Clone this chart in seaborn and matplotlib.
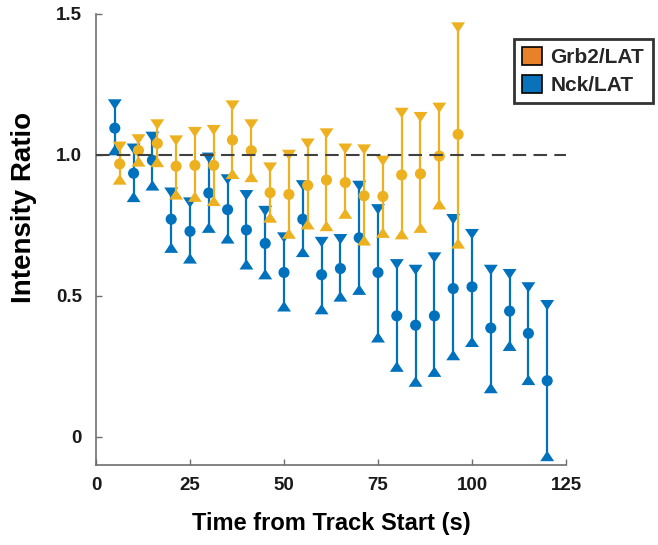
import matplotlib
matplotlib.use("Agg")
import matplotlib.pyplot as plt
from matplotlib.patches import Patch
from matplotlib.path import Path
import numpy as np
import pandas as pd
import seaborn as sns

# Nck/LAT intensity ratio: mean with lower / upper bounds
nck_time = [5, 10, 15, 20, 25, 30, 35, 40, 45, 50, 55, 60,
            65, 70, 75, 80, 85, 90, 95, 100, 105, 110, 115, 120]
nck_mean = [1.095, 0.935, 0.981, 0.772, 0.729, 0.865, 0.806, 0.734, 0.686, 0.583, 0.772, 0.575,
            0.597, 0.706, 0.583, 0.429, 0.396, 0.429, 0.526, 0.532, 0.386, 0.446, 0.367, 0.199]
nck_lower = [1.017, 0.851, 0.892, 0.671, 0.633, 0.742, 0.704, 0.612, 0.577, 0.463, 0.656, 0.453,
             0.498, 0.522, 0.353, 0.249, 0.196, 0.231, 0.290, 0.337, 0.173, 0.323, 0.202, -0.068]
nck_upper = [1.179, 1.022, 1.064, 0.866, 0.831, 0.990, 0.913, 0.857, 0.801, 0.707, 0.892, 0.691,
             0.701, 0.890, 0.807, 0.612, 0.592, 0.636, 0.772, 0.719, 0.592, 0.577, 0.530, 0.467]

# Grb2/LAT intensity ratio, sampled slightly offset in time
grb2_time = [6.3, 11.3, 16.3, 21.3, 26.3, 31.3, 36.3, 41.3, 46.3, 51.3,
             56.3, 61.3, 66.3, 71.3, 76.3, 81.3, 86.3, 91.3, 96.3]
grb2_mean = [0.968, 1.016, 1.041, 0.960, 0.963, 0.963, 1.053, 1.015, 0.866, 0.860,
             0.892, 0.911, 0.902, 0.855, 0.853, 0.929, 0.933, 0.996, 1.073]
grb2_lower = [0.913, 0.977, 0.975, 0.860, 0.852, 0.837, 0.933, 0.922, 0.778, 0.721,
              0.754, 0.748, 0.792, 0.697, 0.724, 0.719, 0.742, 0.825, 0.686]
grb2_upper = [1.029, 1.055, 1.108, 1.051, 1.081, 1.088, 1.175, 1.108, 0.955, 1.000,
              1.040, 1.076, 1.022, 1.019, 0.979, 1.149, 1.134, 1.167, 1.452]

series_names = ["Grb2/LAT", "Nck/LAT"]
marker_colors = {"Nck/LAT": "#0072BD", "Grb2/LAT": "#EDB120"}
legend_colors = {"Grb2/LAT": "#E8822A", "Nck/LAT": "#0A72BA"}

x_ticks = [0, 25, 50, 75, 100, 125]
y_ticks = [0, 0.5, 1.0, 1.5]
y_tick_labels = ["0", "0.5", "1.0", "1.5"]

frames = []
for name, t, m, lo, hi in [
    ("Nck/LAT", nck_time, nck_mean, nck_lower, nck_upper),
    ("Grb2/LAT", grb2_time, grb2_mean, grb2_lower, grb2_upper),
]:
    frames.append(pd.DataFrame({"time": t, "mean": m, "lower": lo,
                                "upper": hi, "series": name}))
df = pd.concat(frames, ignore_index=True)

sns.set_theme(style="ticks")
plt.rcParams["font.family"] = ["Liberation Sans", "DejaVu Sans"]
plt.rcParams["font.weight"] = "bold"

fig = plt.figure(figsize=(6.58, 5.45), dpi=100)
ax = fig.add_axes([96 / 658, 80 / 545, 470 / 658, 451 / 545])

# flattened triangles for the bound caps
tri_down = Path([(-1, 0.75), (1, 0.75), (0, -0.75), (-1, 0.75)],
                [Path.MOVETO, Path.LINETO, Path.LINETO, Path.CLOSEPOLY])
tri_up = Path([(-1, -0.75), (1, -0.75), (0, 0.75), (-1, -0.75)],
              [Path.MOVETO, Path.LINETO, Path.LINETO, Path.CLOSEPOLY])

for z, name in [(2, "Nck/LAT"), (3, "Grb2/LAT")]:
    d = df[df["series"] == name]
    c = marker_colors[name]
    ax.vlines(d["time"], d["lower"], d["upper"], color=c, lw=1.6, zorder=z)
    sns.scatterplot(data=d, x="time", y="mean", marker="o", s=64, color=c,
                    edgecolor="none", linewidth=0, ax=ax, zorder=z + 0.1,
                    legend=False)
    sns.scatterplot(data=d, x="time", y="upper", marker=tri_down, s=100, color=c,
                    edgecolor="none", linewidth=0, ax=ax, zorder=z + 0.1,
                    legend=False)
    sns.scatterplot(data=d, x="time", y="lower", marker=tri_up, s=100, color=c,
                    edgecolor="none", linewidth=0, ax=ax, zorder=z + 0.1,
                    legend=False)

# reference line at ratio 1
ax.axhline(1.0, color="#404040", lw=1.5, ls=(0, (6.5, 3.5)), zorder=5)

ax.set_xlim(0, 125)
ax.set_ylim(-0.1, 1.5)
ax.set_xticks(x_ticks)
ax.set_xticklabels([str(v) for v in x_ticks])
ax.set_yticks(y_ticks)
ax.set_yticklabels(y_tick_labels)

for side in ["top", "right"]:
    ax.spines[side].set_visible(False)
for side in ["left", "bottom"]:
    ax.spines[side].set_color("#6e6e6e")
    ax.spines[side].set_linewidth(1.2)

ax.tick_params(axis="both", direction="in", length=4, width=1.0,
               color="#6e6e6e", labelsize=13.5, labelcolor="#1a1a1a")
ax.tick_params(axis="y", pad=10)
ax.tick_params(axis="x", pad=9)
for lab in ax.get_xticklabels() + ax.get_yticklabels():
    lab.set_fontweight("bold")

ax.set_xlabel("Time from Track Start (s)", fontsize=17, fontweight="bold",
              color="black")
ax.set_ylabel("Intensity Ratio", fontsize=20, fontweight="bold", color="black")
ax.xaxis.set_label_coords(0.5, -0.105)
ax.yaxis.set_label_coords(-0.126, 0.57)

handles = [Patch(facecolor=legend_colors[n], edgecolor="black", linewidth=1.2,
                 label=n) for n in series_names]
leg = fig.legend(handles=handles, loc="upper left",
                 bbox_to_anchor=(514 / 658, 1 - 39 / 545),
                 bbox_transform=fig.transFigure, borderaxespad=0,
                 fontsize=15, frameon=True, fancybox=False,
                 handlelength=0.95, handleheight=0.95, handletextpad=0.4,
                 labelspacing=0.35, borderpad=0.4)
leg.get_frame().set_edgecolor("black")
leg.get_frame().set_linewidth(2.0)
for txt in leg.get_texts():
    txt.set_fontweight("bold")

fig.savefig("out.png", dpi=100)
